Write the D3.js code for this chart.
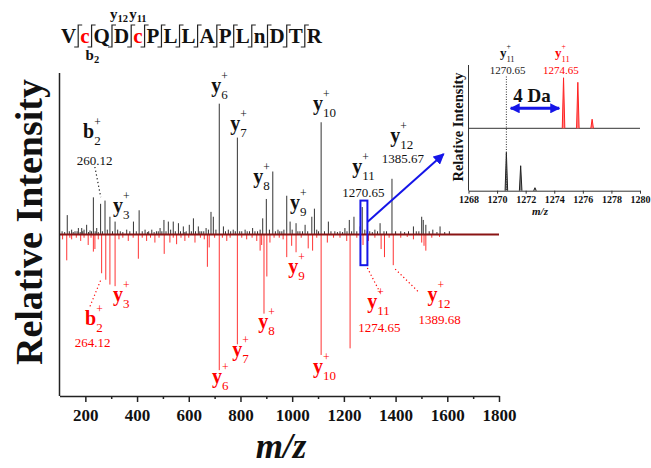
<!DOCTYPE html>
<html>
<head>
<meta charset="utf-8">
<script src="https://cdn.jsdelivr.net/npm/d3@7/dist/d3.min.js"></script>
<style>
body { margin: 0; background: #fff; }
svg text { font-family: "Liberation Serif", "Times New Roman", serif; }
</style>
</head>
<body>
<div id="chart"></div>
<script>
// peptide sequence, lower case c = labelled cysteine (red)
const sequence = ["V","c","Q","D","c","P","L","L","A","P","L","n","D","T","R"];
const redResidues = [1, 4];

// light-labelled spectrum (upper, black): m/z and relative intensity
const lightMz = [110,120,130,138,147,153,160,168,173,180,186,190,195,205,212,218,224,231,238,244,250,259,266,276,285,295,305,315,325,335,345,360,372,386,397,408,420,431,440,445,457,466,475,482,489,496,504,512,521,530,540,548,560,568,579,585,590,602,610,618,626,637,643,650,658,667,676,686,695,705,718,734,742,753,762,772,780,788,797,805,818,826,835,847,856,866,876,886,900,912,925,935,945,952,960,968,979,992,1000,1015,1022,1030,1040,1050,1060,1076,1086,1095,1102,1112,1125,1140,1150,1165,1175,1185,1195,1204,1212,1221,1230,1239,1250,1263,1271,1281,1290,1300,1310,1320,1330,1340,1355,1365,1386,1400,1420,1435,1450,1469,1480,1490,1501,1507,1517,1530,1544,1560,1572,1590,1608];
const lightInt = [2,1.5,12,2,3,1.5,2,2,4,1.5,4,2,3,6,1.5,2.5,2,23,2,4,1.5,19,2,21,3,11,2,8,3,2,1.5,3,2,8,2,15,2,3,1.5,2,3,1.5,2,2,4,2,9,2,8,3,8,2,7,2,5,1.5,2,6,2,10,2,5,2,2,2,4,3,14,11,3,81,5,2,3,2,3,2,60,2,2,3,2,2,4,2,2,3,10,22,3,39,2,3,2,2,3,24,8,3,7,2,2,2,6,2,11,16,3,2,69.5,2,8,2,2,1.5,2,1.5,4,2,9,2,11,2,5,17,3,2,2,1.5,3,2,7,2,2,34.5,2,2,1.5,2,5,2,2,11,9,6,2,3,1.5,5,1.5,2];

// heavy-labelled spectrum (lower, red)
const heavyMz = [112,128,140,147,165,182,195,211,222,231,237,250,263,279,295,315,330,345,366,385,405,420,437,452,469,485,505,527,540,553,570,585,600,624,645,660,672,679,700,718,730,747,760,788,805,824,845,863,876,882,891,902,914,930,950,965,979,998,1015,1035,1062,1079,1095,1112,1136,1160,1185,1211,1224,1250,1274,1295,1320,1344,1357,1375,1391,1420,1445,1469,1501,1510,1517,1540,1570];
const heavyInt = [3,16,2,3,2,4,2,6.5,2,10.6,9,3,24,28,31,32,3,2,4,2,15,2,4,2,5,2,12,5,2,6,2,4,2,5,2,3,20,8,2,84,2,4,2,68,2,3,2,4,10,6.5,49,26,5,2,2,3,14,7,11,2,8.6,10,2,74.6,5,2,2,4,70.5,2,6.5,4,2,9,14,2,19,2,1.5,3,5,7,10,2,1.5];

const xTickValues = [200,400,600,800,1000,1200,1400,1600,1800];
const xMinorValues = [300,500,700,900,1100,1300,1500,1700];

// ion annotations (anchor in data units)
const lightLabels = [
  { ion: "b", n: "2",  mz: 191,  inten: 59.8, mass: "260.12",  massMz: 235.5, massInt: 43.2 },
  { ion: "y", n: "3",  mz: 307,  inten: 14.1 },
  { ion: "y", n: "6",  mz: 687,  inten: 88.2 },
  { ion: "y", n: "7",  mz: 760,  inten: 64.7 },
  { ion: "y", n: "8",  mz: 849,  inten: 31.9 },
  { ion: "y", n: "9",  mz: 992,  inten: 15.8 },
  { ion: "y", n: "10", mz: 1081, inten: 77 },
  { ion: "y", n: "11", mz: 1232, inten: 38,   mass: "1270.65", massMz: 1275, massInt: 23.3 },
  { ion: "y", n: "12", mz: 1379, inten: 57.3, mass: "1385.67", massMz: 1428, massInt: 44.2 }
];
const heavyLabels = [
  { ion: "b", n: "2",  mz: 199,  inten: -56.2, mass: "264.12",  massMz: 228,  massInt: -69.8 },
  { ion: "y", n: "3",  mz: 307,  inten: -41.2 },
  { ion: "y", n: "6",  mz: 690,  inten: -92 },
  { ion: "y", n: "7",  mz: 768,  inten: -75.2 },
  { ion: "y", n: "8",  mz: 869,  inten: -57.9 },
  { ion: "y", n: "9",  mz: 985,  inten: -23.8 },
  { ion: "y", n: "10", mz: 1081, inten: -85.8 },
  { ion: "y", n: "11", mz: 1290, inten: -45.5, mass: "1274.65", massMz: 1337, massInt: -60.3 },
  { ion: "y", n: "12", mz: 1523, inten: -41.2, mass: "1389.68", massMz: 1570, massInt: -55.3 }
];
// dotted leader lines [mz1, int1, mz2, int2, colour]
const leaders = [
  [236.9, 41.8, 259.5, 23.2, "#222"],
  [218, -44.5, 259.5, -28.2, "#f00"],
  [1290.8, -20.7, 1341, -36.2, "#f00"],
  [1398.6, -21.4, 1491.5, -36, "#f00"]
];
const zoomBox = [1264, 1291, -19, 21];

// inset: isotope clusters of y11
const insetLightMz = [1270.65, 1271.65, 1272.65];
const insetLightInt = [61.5, 40, 4.8];
const insetHeavyMz = [1274.65, 1275.65, 1276.65];
const insetHeavyInt = [81, 73.7, 14.6];
const insetTicks = [1268,1270,1272,1274,1276,1278,1280];

const W = 651, H = 468;
const svg = d3.select("#chart").append("svg").attr("width", W).attr("height", H);

const defs = svg.append("defs");
function arrowMarker(id, size) {
  defs.append("marker").attr("id", id)
    .attr("viewBox", "0 0 10 10").attr("refX", 9).attr("refY", 5)
    .attr("markerWidth", size).attr("markerHeight", size)
    .attr("markerUnits", "userSpaceOnUse").attr("orient", "auto-start-reverse")
    .append("path").attr("d", "M0,0 L10,5 L0,10 z").attr("fill", "#1515e8");
}
arrowMarker("arr", 11);
arrowMarker("arr2", 10);

const x = d3.scaleLinear().domain([100, 1800]).range([59.5, 499]);
const y = d3.scaleLinear().domain([-100, 100]).range([396, 73]);

// peaks
svg.append("g").selectAll("line").data(heavyMz).join("line")
  .attr("x1", d => x(d)).attr("x2", d => x(d))
  .attr("y1", y(0)).attr("y2", (d, i) => y(-heavyInt[i]))
  .attr("stroke", "#ff3333").attr("stroke-width", 1);
svg.append("g").selectAll("line").data(lightMz).join("line")
  .attr("x1", d => x(d)).attr("x2", d => x(d))
  .attr("y1", y(0)).attr("y2", (d, i) => y(lightInt[i]))
  .attr("stroke", "#333").attr("stroke-width", 1);

// zero line
svg.append("line").attr("x1", x(100)).attr("x2", x(1800))
  .attr("y1", y(0)).attr("y2", y(0)).attr("stroke", "#8a1414").attr("stroke-width", 2);

// axes
svg.append("line").attr("x1", x(100)).attr("x2", x(100)).attr("y1", 73).attr("y2", 396)
  .attr("stroke", "#222").attr("stroke-width", 1.5);
const xAxis = svg.append("g").attr("transform", "translate(0,396)")
  .call(d3.axisBottom(x).tickValues(xTickValues).tickSize(6).tickSizeOuter(0).tickFormat(d3.format("d")));
xAxis.select(".domain").attr("stroke", "#222").attr("stroke-width", 1.5);
xAxis.selectAll(".tick line").attr("stroke", "#222").attr("stroke-width", 1.5);
xAxis.selectAll(".tick text").attr("y", 25).attr("dy", 0)
  .attr("font-family", "Liberation Serif").attr("font-size", 17).attr("font-weight", "bold").attr("fill", "#111");
const xMinor = svg.append("g").attr("transform", "translate(0,396)")
  .call(d3.axisBottom(x).tickValues(xMinorValues).tickSize(3).tickFormat(""));
xMinor.select(".domain").remove();
xMinor.selectAll(".tick line").attr("stroke", "#222").attr("stroke-width", 1.5);

// axis titles
svg.append("text").attr("transform", "translate(42,222) rotate(-90)")
  .attr("text-anchor", "middle").attr("font-size", 38).attr("font-weight", "bold")
  .attr("fill", "#111").text("Relative Intensity");
svg.append("text").attr("x", 281).attr("y", 458).attr("text-anchor", "middle")
  .attr("font-size", 35).attr("font-weight", "bold").attr("font-style", "italic")
  .attr("fill", "#111").text("m/z");

// ion labels
function ionLabel(g, px, py, d, color, big, small, supDy, subDy) {
  const t = g.append("text").attr("x", px).attr("y", py).attr("font-size", big)
    .attr("font-weight", "bold").attr("fill", color).text(d.ion);
  const w = t.node().getComputedTextLength();
  g.append("text").attr("x", px + w).attr("y", py + supDy).attr("font-size", small * 0.9)
    .attr("fill", color).text("+");
  g.append("text").attr("x", px + w).attr("y", py + subDy).attr("font-size", small)
    .attr("fill", color).text(d.n);
}
const labG = svg.append("g");
function drawLabels(list, color) {
  list.forEach(d => {
    ionLabel(labG, x(d.mz), y(d.inten), d, color, 20, 13, -12, 7);
    if (d.mass) {
      labG.append("text").attr("x", x(d.massMz)).attr("y", y(d.massInt))
        .attr("text-anchor", "middle").attr("font-size", 13).attr("fill", color).text(d.mass);
    }
  });
}
drawLabels(lightLabels, "#111");
drawLabels(heavyLabels, "#f00");

svg.append("g").selectAll("line").data(leaders).join("line")
  .attr("x1", d => x(d[0])).attr("y1", d => y(d[1]))
  .attr("x2", d => x(d[2])).attr("y2", d => y(d[3]))
  .attr("stroke", d => d[4]).attr("stroke-width", 1.2).attr("stroke-dasharray", "1.2,2.6");

// zoom box + arrow to inset
svg.append("rect").attr("x", x(zoomBox[0])).attr("y", y(zoomBox[3]))
  .attr("width", x(zoomBox[1]) - x(zoomBox[0])).attr("height", y(zoomBox[2]) - y(zoomBox[3]))
  .attr("fill", "none").attr("stroke", "#1515e8").attr("stroke-width", 2);
svg.append("line").attr("x1", x(1292)).attr("y1", y(7.9)).attr("x2", x(1586)).attr("y2", y(49.8))
  .attr("stroke", "#1515e8").attr("stroke-width", 2).attr("marker-end", "url(#arr)");

// inset
const xi = d3.scaleLinear().domain([1268, 1280]).range([468.5, 640]);
const yU = d3.scaleLinear().domain([0, 100]).range([128.3, 65.9]);
const yL = d3.scaleLinear().domain([0, 100]).range([190.7, 128.3]);
const ins = svg.append("g");
ins.append("line").attr("x1", xi(1268)).attr("x2", xi(1268)).attr("y1", 65).attr("y2", 190.7)
  .attr("stroke", "#333").attr("stroke-width", 1);
ins.append("line").attr("x1", xi(1268)).attr("x2", xi(1280)).attr("y1", yU(0)).attr("y2", yU(0))
  .attr("stroke", "#333").attr("stroke-width", 1);
const xiAxis = ins.append("g").attr("transform", "translate(0,190.7)")
  .call(d3.axisBottom(xi).tickValues(insetTicks).tickSize(3).tickSizeOuter(0).tickFormat(d3.format("d")));
xiAxis.select(".domain").attr("stroke", "#333");
xiAxis.selectAll(".tick line").attr("stroke", "#333");
xiAxis.selectAll(".tick text").attr("y", 12).attr("dy", 0).attr("font-family", "Liberation Serif")
  .attr("font-size", 10).attr("font-weight", "bold").attr("fill", "#111");
ins.append("text").attr("x", 540).attr("y", 215).attr("text-anchor", "middle")
  .attr("font-size", 11).attr("font-weight", "bold").attr("font-style", "italic").attr("fill", "#111").text("m/z");
ins.append("text").attr("transform", "translate(463,127) rotate(-90)").attr("text-anchor", "middle")
  .attr("font-size", 14.5).attr("font-weight", "bold").attr("fill", "#111").text("Relative Intensity");

function peakPath(m, v, ys) {
  return `M${xi(m - 0.09)},${ys(0)} L${xi(m)},${ys(v)} L${xi(m + 0.09)},${ys(0)}`;
}
ins.selectAll(".hp").data(insetHeavyMz).join("path").attr("class", "hp")
  .attr("d", (d, i) => peakPath(d, insetHeavyInt[i], yU))
  .attr("fill", "#ff8080").attr("stroke", "#f22").attr("stroke-width", 1);
ins.selectAll(".lp").data(insetLightMz).join("path").attr("class", "lp")
  .attr("d", (d, i) => peakPath(d, insetLightInt[i], yL))
  .attr("fill", "#888").attr("stroke", "#222").attr("stroke-width", 1);
ins.append("line").attr("x1", xi(1270.65)).attr("x2", xi(1270.65)).attr("y1", yU(83)).attr("y2", yL(0))
  .attr("stroke", "#333").attr("stroke-width", 1).attr("stroke-dasharray", "1,1.5");

ionLabel(ins, xi(1270.2), yU(114), { ion: "y", n: "11" }, "#111", 13, 8.5, -8, 5);
ionLabel(ins, xi(1274.05), yU(114), { ion: "y", n: "11" }, "#f00", 13, 8.5, -8, 5);
ins.append("text").attr("x", xi(1270.73)).attr("y", yU(87)).attr("text-anchor", "middle")
  .attr("font-size", 11).attr("fill", "#222").text("1270.65");
ins.append("text").attr("x", xi(1274.47)).attr("y", yU(87)).attr("text-anchor", "middle")
  .attr("font-size", 11).attr("fill", "#f00").text("1274.65");
ins.append("text").attr("x", xi(1272.44)).attr("y", yU(42)).attr("text-anchor", "middle")
  .attr("font-size", 19).attr("font-weight", "bold").attr("fill", "#111").text("4 Da");
ins.append("line").attr("x1", xi(1270.95)).attr("x2", xi(1274.35)).attr("y1", yU(32)).attr("y2", yU(32))
  .attr("stroke", "#1515e8").attr("stroke-width", 3)
  .attr("marker-start", "url(#arr2)").attr("marker-end", "url(#arr2)");

// peptide sequence with fragment markers
const seqG = svg.append("g");
const glyphs = sequence.map((s, i) => seqG.append("text").attr("y", 43).attr("font-size", 21)
  .attr("font-weight", "bold").attr("fill", redResidues.includes(i) ? "#f00" : "#111").text(s));
const widths = glyphs.map(g => g.node().getComputedTextLength());
const gap = (322 - 61 - d3.sum(widths)) / (sequence.length - 1);
let cx = 61;
const seps = [];
glyphs.forEach((g, i) => {
  g.attr("x", cx);
  cx += widths[i];
  if (i < sequence.length - 1) { seps.push(cx + gap / 2); cx += gap; }
});
seqG.selectAll("path").data(seps).join("path")
  .attr("d", s => `M${s - 4},47 H${s} V25 H${s + 4}`)
  .attr("fill", "none").attr("stroke", "#222").attr("stroke-width", 1.2);
function fragLabel(px, py, ion, n) {
  const t = seqG.append("text").attr("x", px).attr("y", py).attr("font-size", 15)
    .attr("font-weight", "bold").attr("fill", "#111").text(ion);
  const w = t.node().getComputedTextLength();
  seqG.append("text").attr("x", px + w).attr("y", py + 3).attr("font-size", 10.5)
    .attr("font-weight", "bold").attr("fill", "#111").text(n);
}
fragLabel(seps[2] - 2, 19, "y", "12");
fragLabel(seps[3] - 2, 19, "y", "11");
fragLabel(seps[1] - 6, 60, "b", "2");
</script>
</body>
</html>
